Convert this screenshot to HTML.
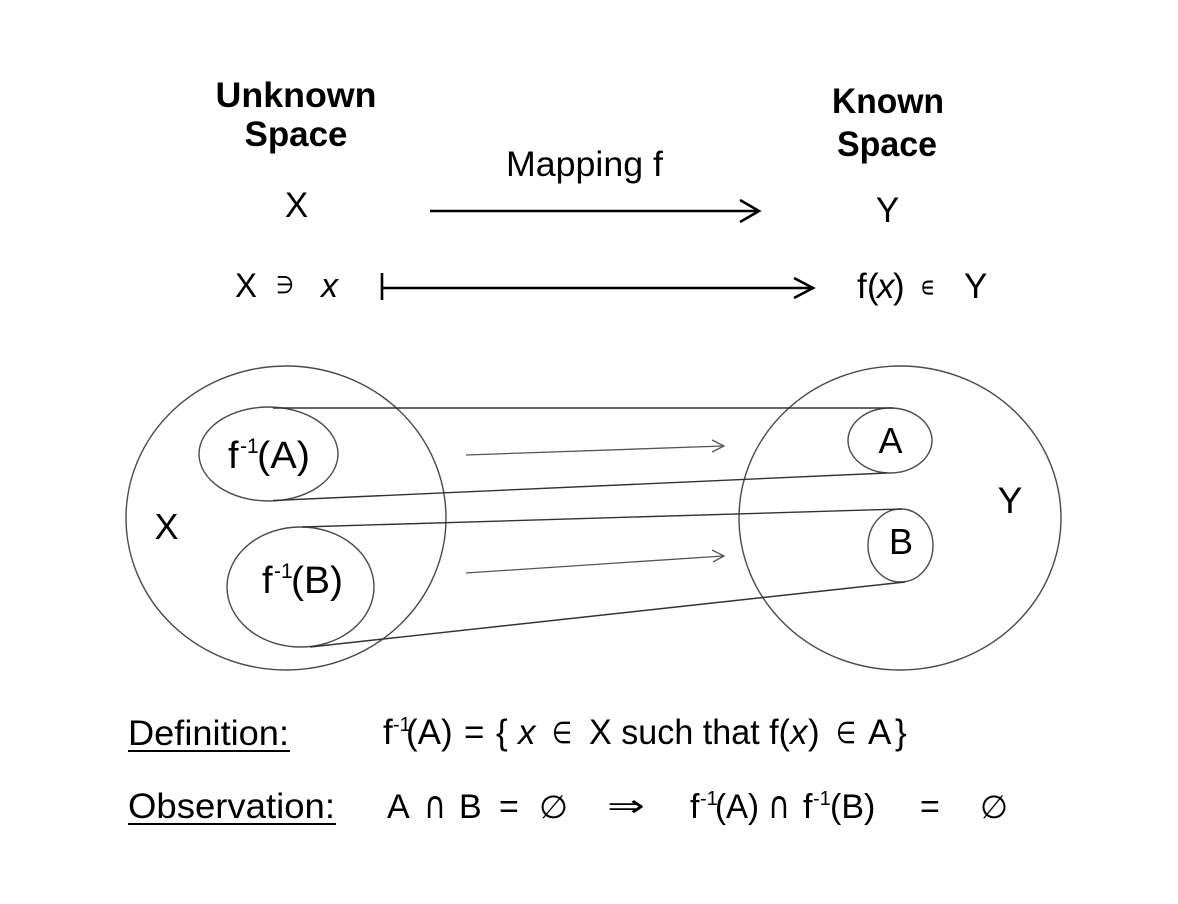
<!DOCTYPE html>
<html>
<head>
<meta charset="utf-8">
<style>
  html, body { margin: 0; padding: 0; background: #ffffff; }
  body { width: 1178px; height: 904px; overflow: hidden; }
  svg { display: block; }
  text { font-family: "Liberation Sans", "DejaVu Sans", sans-serif; fill: #000; }
  .sym { font-family: "DejaVu Sans", "Liberation Sans", sans-serif; }
</style>
</head>
<body>
<svg width="1178" height="904" viewBox="0 0 1178 904" xmlns="http://www.w3.org/2000/svg">
  <rect width="1178" height="904" fill="#fff"/>

  <!-- Top headings -->
  <text x="296" y="107" font-size="35" font-weight="bold" text-anchor="middle" textLength="161" lengthAdjust="spacingAndGlyphs">Unknown</text>
  <text x="296" y="146" font-size="35" font-weight="bold" text-anchor="middle" textLength="103" lengthAdjust="spacingAndGlyphs">Space</text>
  <text x="888" y="113" font-size="35" font-weight="bold" text-anchor="middle" textLength="112" lengthAdjust="spacingAndGlyphs">Known</text>
  <text x="887" y="156" font-size="35" font-weight="bold" text-anchor="middle" textLength="100" lengthAdjust="spacingAndGlyphs">Space</text>

  <text x="506" y="176" font-size="35" textLength="157" lengthAdjust="spacingAndGlyphs">Mapping f</text>

  <text x="296.5" y="217" font-size="35" text-anchor="middle">X</text>
  <text x="887.5" y="222" font-size="35" text-anchor="middle">Y</text>

  <!-- Mapping arrow -->
  <line x1="430" y1="211" x2="757" y2="211" stroke="#000" stroke-width="2.6"/>
  <polyline points="740,200 759,211 740,222" fill="none" stroke="#000" stroke-width="2.6" stroke-linejoin="miter"/>

  <!-- Row 2: X ∋ x |--> f(x) ∈ Y -->
  <text x="235" y="297" font-size="34" textLength="22" lengthAdjust="spacingAndGlyphs">X</text>
  <text class="sym" x="276" y="293" font-size="24" textLength="18" lengthAdjust="spacingAndGlyphs">∋</text>
  <text x="321" y="297" font-size="34" font-style="italic" textLength="17" lengthAdjust="spacingAndGlyphs">x</text>
  <line x1="382" y1="273" x2="382" y2="300" stroke="#000" stroke-width="2.6"/>
  <line x1="382" y1="288" x2="811" y2="288" stroke="#000" stroke-width="2.6"/>
  <polyline points="794,278 813,288 794,298" fill="none" stroke="#000" stroke-width="2.6"/>

  <text x="857" y="298" font-size="35">f</text>
  <text x="867" y="298" font-size="35">(</text>
  <text x="877" y="298" font-size="35" font-style="italic">x</text>
  <text x="893" y="298" font-size="35">)</text>
  <text class="sym" x="920" y="297" font-size="30" textLength="15" lengthAdjust="spacingAndGlyphs">∊</text>
  <text x="964" y="298" font-size="35">Y</text>

  <!-- Diagram -->
  <g fill="none" stroke="#4a4a4a" stroke-width="1.4">
    <ellipse cx="286" cy="518" rx="160" ry="152"/>
    <ellipse cx="268.5" cy="454" rx="69.5" ry="47"/>
    <ellipse cx="300.5" cy="587" rx="73.5" ry="60"/>
    <ellipse cx="900" cy="518" rx="161" ry="152"/>
    <ellipse cx="890" cy="440.5" rx="42" ry="32.5"/>
    <ellipse cx="900.5" cy="545.5" rx="32.5" ry="36.5"/>
  </g>
  <g fill="none" stroke="#333" stroke-width="1.4">
    <line x1="273" y1="408" x2="893" y2="408"/>
    <line x1="273" y1="500.5" x2="887" y2="473"/>
    <line x1="302" y1="527" x2="902" y2="509"/>
    <line x1="310" y1="647" x2="905" y2="582"/>
  </g>
  <g fill="none" stroke="#555" stroke-width="1.3">
    <line x1="466" y1="455" x2="723" y2="446"/>
    <polyline points="712,440 724,446 712,452"/>
    <line x1="466" y1="573" x2="723" y2="556"/>
    <polyline points="712,550 724,556 713,562"/>
  </g>

  <!-- Diagram labels -->
  <text x="228" y="468" font-size="38">f</text>
  <text x="240" y="453" font-size="21">-1</text>
  <text x="257" y="468" font-size="38" textLength="53" lengthAdjust="spacingAndGlyphs">(A)</text>

  <text x="262" y="593" font-size="38">f</text>
  <text x="274" y="578" font-size="21">-1</text>
  <text x="291" y="593" font-size="38" textLength="52" lengthAdjust="spacingAndGlyphs">(B)</text>

  <text x="166.5" y="539" font-size="36" text-anchor="middle">X</text>
  <text x="890.5" y="453" font-size="36" text-anchor="middle">A</text>
  <text x="901" y="554" font-size="36" text-anchor="middle">B</text>
  <text x="1010" y="513" font-size="37" text-anchor="middle">Y</text>

  <!-- Definition row -->
  <text x="128" y="745" font-size="35" textLength="161" lengthAdjust="spacingAndGlyphs">Definition:</text>
  <line x1="128" y1="751" x2="290" y2="751" stroke="#000" stroke-width="2"/>

  <text x="383" y="744" font-size="35">f</text>
  <text x="393" y="731" font-size="20">-1</text>
  <text x="406" y="744" font-size="35">(A)</text>
  <text x="464" y="744" font-size="35">=</text>
  <text x="496" y="744" font-size="35">{</text>
  <text x="518" y="744" font-size="35" font-style="italic">x</text>
  <text class="sym" x="552" y="743" font-size="30" textLength="20" lengthAdjust="spacingAndGlyphs">∈</text>
  <text x="589" y="744" font-size="35" textLength="201" lengthAdjust="spacingAndGlyphs">X such that f(</text>
  <text x="790" y="744" font-size="35" font-style="italic">x</text>
  <text x="808" y="744" font-size="35">)</text>
  <text class="sym" x="836" y="743" font-size="30" textLength="20" lengthAdjust="spacingAndGlyphs">∈</text>
  <text x="868" y="744" font-size="35">A</text>
  <text x="895" y="744" font-size="35">}</text>

  <!-- Observation row -->
  <text x="128" y="818" font-size="35" textLength="207" lengthAdjust="spacingAndGlyphs">Observation:</text>
  <line x1="128" y1="824" x2="336" y2="824" stroke="#000" stroke-width="2"/>

  <text x="387" y="818" font-size="34">A</text>
  <text class="sym" x="424" y="818" font-size="38" textLength="22" lengthAdjust="spacingAndGlyphs">∩</text>
  <text x="459" y="818" font-size="34">B</text>
  <text x="499" y="818" font-size="34">=</text>
  <text class="sym" x="539" y="818" font-size="32" textLength="29" lengthAdjust="spacingAndGlyphs">∅</text>
  <text class="sym" x="607" y="816" font-size="30" textLength="38" lengthAdjust="spacingAndGlyphs">⇒</text>

  <text x="690" y="818" font-size="34">f</text>
  <text x="700" y="805" font-size="20">-1</text>
  <text x="715" y="818" font-size="34" textLength="44" lengthAdjust="spacingAndGlyphs">(A)</text>
  <text class="sym" x="768" y="818" font-size="38" textLength="22" lengthAdjust="spacingAndGlyphs">∩</text>
  <text x="803" y="818" font-size="34">f</text>
  <text x="813" y="805" font-size="20">-1</text>
  <text x="830" y="818" font-size="34">(B)</text>
  <text x="920" y="818" font-size="34">=</text>
  <text class="sym" x="980" y="818" font-size="32" textLength="28" lengthAdjust="spacingAndGlyphs">∅</text>
</svg>
</body>
</html>
